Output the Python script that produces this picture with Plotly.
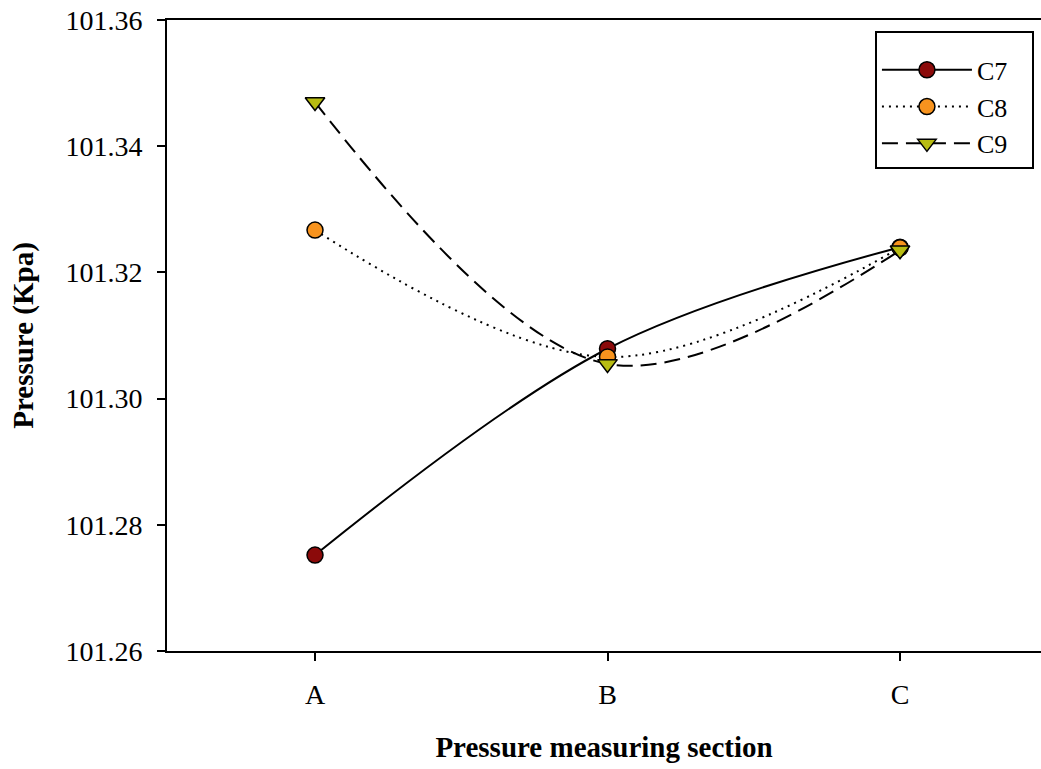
import plotly.graph_objects as go

# Measuring sections and pressure readings (kPa)
sections = ["A", "B", "C"]
c7 = [101.2752, 101.3079, 101.3240]
c8 = [101.3267, 101.3066, 101.3239]
c9 = [101.3470, 101.3055, 101.3235]

y_ticks = [101.26, 101.28, 101.30, 101.32, 101.34, 101.36]

xpos = list(range(len(sections)))
font_family = "Liberation Serif, Times New Roman, serif"

fig = go.Figure()

series = [
    ("C7", c7, "solid", "circle", "#8B0A0A"),
    ("C8", c8, "2px,5px", "circle", "#F7931E"),
    ("C9", c9, "16px,8px", "triangle-down", "#B8BC12"),
]
for name, vals, dash, symbol, color in series:
    fig.add_trace(go.Scatter(
        x=xpos, y=vals, name=name + "\u00a0\u00a0\u00a0", mode="lines+markers",
        line=dict(color="black", width=2, dash=dash, shape="spline", smoothing=1),
        marker=dict(symbol=symbol, size=16 if symbol == "circle" else 17,
                    color=color, line=dict(color="black", width=1.5)),
    ))

tick_font = dict(family=font_family, size=28, color="black")
title_font = dict(family=font_family, size=29, color="black")

fig.update_layout(
    width=1041, height=769,
    margin=dict(l=167, r=0, t=20, b=118),
    paper_bgcolor="white", plot_bgcolor="white",
    font=dict(family=font_family, size=24, color="black"),
    showlegend=True,
    legend=dict(
        x=0.81, y=0.982, xanchor="left", yanchor="top",
        bordercolor="black", borderwidth=2, bgcolor="white",
        font=dict(family=font_family, size=26, color="black"),
        itemwidth=90,
        title=dict(text="\u00a0", font=dict(size=10)),
    ),
)

fig.update_xaxes(
    range=[-0.506, 2.482], tickmode="array", tickvals=xpos, ticktext=sections,
    showgrid=False, zeroline=False, showline=True, linecolor="black", linewidth=2,
    mirror=True, ticks="outside", ticklen=8, tickwidth=2, tickcolor="black",
    tickfont=tick_font, ticklabelstandoff=9,
    title=dict(text="<b>Pressure measuring section</b>", font=title_font, standoff=28),
)
fig.update_yaxes(
    range=[101.26, 101.36], tickmode="array", tickvals=y_ticks,
    ticktext=[f"{v:.2f}" for v in y_ticks],
    showgrid=False, zeroline=False, showline=True, linecolor="black", linewidth=2,
    ticks="outside", ticklen=8, tickwidth=2, tickcolor="black",
    tickfont=tick_font, ticklabelstandoff=9,
    title=dict(text="<b>Pressure (Kpa)</b>", font=title_font, standoff=23),
)

fig.write_html("out.html")
